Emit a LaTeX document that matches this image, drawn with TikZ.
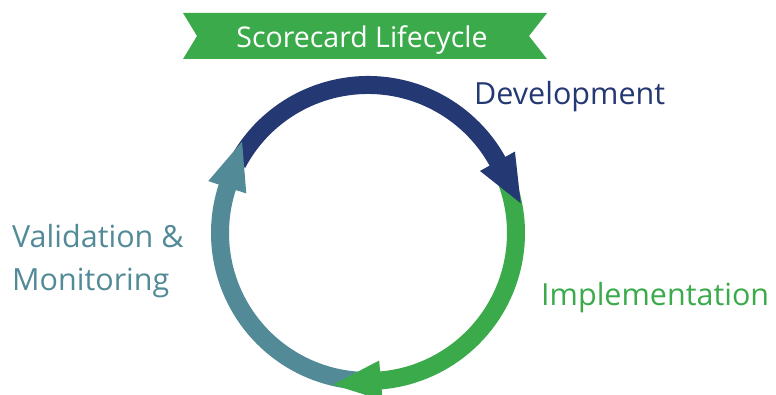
\documentclass[tikz,border=0pt]{standalone}
\usepackage{fontspec}
\setmainfont{Open Sans}
\usetikzlibrary{calc}
\definecolor{navy}{HTML}{243873}
\definecolor{leaf}{HTML}{3BAA4B}
\definecolor{teal}{HTML}{528A98}
\newcommand\ringhead[2]{% base angle, colour
  \fill[#2] ($(C)+(#1:168pt)$) -- ($(C)+(#1:148pt)+(#1-90:48pt)$) -- ($(C)+(#1:128pt)$) -- cycle;}
\begin{document}
\begin{tikzpicture}[x=1pt,y=1pt,
  band/.style={line width=18pt},
  label/.style={font=\fontsize{30.5}{36}\selectfont, anchor=base west, inner sep=0pt}]
\useasboundingbox (0,0) rectangle (776,394);
\coordinate (C) at (368,161);

% ribbon banner with the title
\fill[leaf] (183,381) -- (547,381) -- (529,358) -- (547,335) -- (183,335) -- (197,358) -- cycle;
\node[font=\fontsize{28.5}{34}\selectfont, text=white, anchor=base, inner sep=0pt] (title) at (362,346) {Scorecard Lifecycle};

% ring segments (bodies first, heads on top)
\draw[band,navy] ($(C)+(152:148pt)$) arc[start angle=152,end angle=27,radius=148pt];
\draw[band,leaf] ($(C)+(20:148pt)$) arc[start angle=20,end angle=-87,radius=148pt];
\draw[band,teal] ($(C)+(-92:148pt)$) arc[start angle=-92,end angle=-200,radius=148pt];
\ringhead{29}{navy}
\ringhead{-85}{leaf}
\ringhead{-198}{teal}

% stage labels
\node[label, text=navy] (dev) at (474,289) {Development};
\node[label, text=leaf] (impl) at (541,89) {Implementation};
\node[label, text=teal] (valid) at (12,147) {Validation \&};
\node[label, text=teal] (monit) at (12,104) {Monitoring};
\end{tikzpicture}
\end{document}
